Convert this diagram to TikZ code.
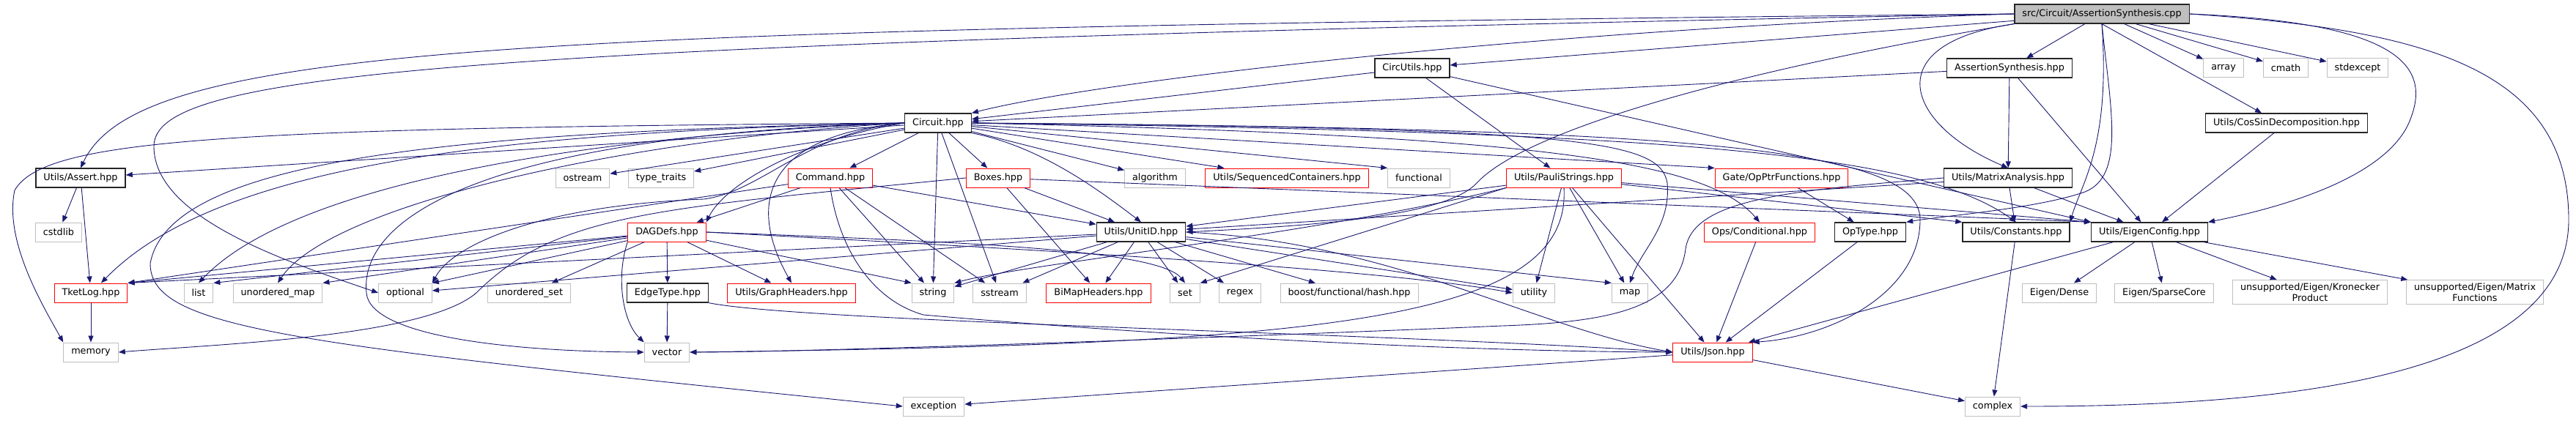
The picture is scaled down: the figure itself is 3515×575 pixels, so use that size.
\documentclass[tikz,border=0pt]{standalone}
\usepackage{fontspec}
\setmainfont{DejaVu Sans}
\usepackage{xcolor}
\usepackage{tikz}
\usetikzlibrary{arrows.meta}
\definecolor{mEdge}{HTML}{191970}
\definecolor{mGrey}{HTML}{BFBFBF}
\definecolor{mDark}{HTML}{262626}
\definecolor{mRed}{HTML}{FF0000}
\tikzset{
 hbox/.style={rectangle, fill=white, line width=1pt, minimum height=26pt, inner xsep=10.5pt, inner ysep=4pt, align=center, font=\fontsize{12.8}{15}\selectfont},
 inc/.style={-{Triangle[length=9pt,width=7pt]}, draw=mEdge, line width=0.9pt}
}
\newcommand{\hnode}[5]{%
\ifcase#5
 \node[hbox, draw=mGrey] (#3) at (#1,#2) {#4};%
\or
 \node[hbox, draw=mDark, line width=1.3pt] (#3) at (#1,#2) {#4};%
\or
 \node[hbox, draw=mRed] (#3) at (#1,#2) {#4};%
\else
 \node[hbox, draw=mDark, line width=1.3pt, fill=mGrey] (#3) at (#1,#2) {#4};%
\fi}

\begin{document}
\begin{tikzpicture}[x=1pt, y=-1pt]
\useasboundingbox (0,0) rectangle (3515,575);
\hnode{2868}{19}{R}{src/Circuit/AssertionSynthesis.cpp}{3}
\hnode{1927}{93}{circutils}{CircUtils.hpp}{1}
\hnode{2742}{93}{ash}{AssertionSynthesis.hpp}{1}
\hnode{3034}{93}{array}{array}{0}
\hnode{3119}{93}{cmath}{cmath}{0}
\hnode{3217}{93}{stdexcept}{stdexcept}{0}
\hnode{1280}{168}{circuit}{Circuit.hpp}{1}
\hnode{3120}{168}{cossin}{Utils/CosSinDecomposition.hpp}{1}
\hnode{110}{243}{assert}{Utils/Assert.hpp}{1}
\hnode{795}{243}{ostream}{ostream}{0}
\hnode{902}{243}{typetraits}{type\_traits}{0}
\hnode{1133}{243}{command}{Command.hpp}{2}
\hnode{1362}{243}{boxes}{Boxes.hpp}{2}
\hnode{1576}{243}{algorithm}{algorithm}{0}
\hnode{1756}{243}{seqcont}{Utils/SequencedContainers.hpp}{2}
\hnode{1936}{243}{functional}{functional}{0}
\hnode{2134}{243}{pauli}{Utils/PauliStrings.hpp}{2}
\hnode{2431}{243}{opptr}{Gate/OpPtrFunctions.hpp}{2}
\hnode{2740}{243}{matrix}{Utils/MatrixAnalysis.hpp}{1}
\hnode{80}{317}{cstdlib}{cstdlib}{0}
\hnode{910}{317}{dagdefs}{DAGDefs.hpp}{2}
\hnode{1557}{317}{unitid}{Utils/UnitID.hpp}{1}
\hnode{2401}{317}{opscond}{Ops/Conditional.hpp}{2}
\hnode{2552}{317}{optype}{OpType.hpp}{1}
\hnode{2751}{317}{constants}{Utils/Constants.hpp}{1}
\hnode{2933}{317}{eigenconfig}{Utils/EigenConfig.hpp}{1}
\hnode{124}{400}{tketlog}{TketLog.hpp}{2}
\hnode{271}{400}{list}{list}{0}
\hnode{379}{400}{umap}{unordered\_map}{0}
\hnode{553}{400}{optional}{optional}{0}
\hnode{722}{400}{uset}{unordered\_set}{0}
\hnode{911}{400}{edgetype}{EdgeType.hpp}{1}
\hnode{1080}{400}{graphheaders}{Utils/GraphHeaders.hpp}{2}
\hnode{1273}{400}{string}{string}{0}
\hnode{1364}{400}{sstream}{sstream}{0}
\hnode{1499}{400}{bimap}{BiMapHeaders.hpp}{2}
\hnode{1617}{400}{set}{set}{0}
\hnode{1692}{400}{regex}{regex}{0}
\hnode{1841}{400}{boosthash}{boost/functional/hash.hpp}{0}
\hnode{2093}{400}{utility}{utility}{0}
\hnode{2224}{400}{map}{map}{0}
\hnode{2810}{400}{dense}{Eigen/Dense}{0}
\hnode{2953}{400}{sparse}{Eigen/SparseCore}{0}
\hnode{3152}{399}{kron}{unsupported/Eigen/Kronecker\\Product}{0}
\hnode{3377}{399}{matfun}{unsupported/Eigen/Matrix\\Functions}{0}
\hnode{124}{481}{memory}{memory}{0}
\hnode{910}{481}{vector}{vector}{0}
\hnode{2337}{481}{json}{Utils/Json.hpp}{2}
\hnode{1274}{555}{exception}{exception}{0}
\hnode{2719}{555}{complex}{complex}{0}
% root
\foreach \t in {circutils,ash,array,cmath,stdexcept} \draw[inc] (R) -- (\t);
\draw[inc] (R.south) -- ([xshift=-34pt]cossin.north);
\draw[inc] (R.west) .. controls (2100,40) and (1500,110) .. (circuit.north east);
\draw[inc] (R.west) .. controls (700,40) and (190,60) .. (assert.north);
\draw[inc] (R.west) .. controls (600,60) and (210,100) .. (210,200) .. controls (210,300) and (400,360) .. (optional.west);
\draw[inc] (R.south west) .. controls (2350,100) and (2080,180) .. (2015,250) .. controls (1970,300) and (1750,310) .. (unitid.east);
\draw[inc] (R.south west) .. controls (2560,60) and (2600,170) .. (matrix.north);
\draw[inc] (R.south) .. controls (2880,200) and (2840,250) .. (constants.north east);
\draw[inc] (R.south) .. controls (2880,150) and (2900,240) .. (2845,262) .. controls (2780,285) and (2650,295) .. (optype.north east);
\draw[inc] (R.east) .. controls (3250,30) and (3320,80) .. (3290,160) .. controls (3260,250) and (3080,290) .. (eigenconfig.north east);
\draw[inc] (R.east) .. controls (3300,40) and (3505,90) .. (3505,300) .. controls (3505,520) and (3100,555) .. (complex.east);
% headers
\draw[inc] (circutils) -- (circuit);
\draw[inc] (circutils) -- (pauli);
\draw[inc] (circutils) -- (eigenconfig.north west);
\foreach \t in {circuit,matrix,eigenconfig} \draw[inc] (ash) -- (\t);
\draw[inc] (cossin) -- (eigenconfig);
\foreach \t in {constants,eigenconfig,unitid} \draw[inc] (matrix) -- (\t);
\draw[inc] (matrix.west) .. controls (2450,260) and (2310,270) .. (2300,340) .. controls (2290,420) and (2200,440) .. (2050,445) .. controls (1700,460) and (1100,481) .. (vector.east);
\draw[inc] (opptr) -- (optype);
\draw[inc] (opscond) -- (json);
\draw[inc] (optype) -- (json);
\draw[inc] (constants) -- (complex);
\foreach \t in {dense,sparse,kron,matfun,json} \draw[inc] (eigenconfig) -- (\t);
\draw[inc] (json) -- (exception);
\draw[inc] (json) -- (complex);
\draw[inc] (assert) -- (cstdlib);
\draw[inc] (assert) -- (tketlog);
\draw[inc] (tketlog) -- (memory);
% Circuit.hpp
\foreach \t in {assert,ostream,typetraits,command,boxes,algorithm,seqcont,string,sstream} \draw[inc] (circuit) -- (\t);
\draw[inc] (circuit) -- (functional.north west);
\draw[inc] (circuit) -- (opptr.north west);
\draw[inc] (circuit.south east) .. controls (1420,200) and (1500,260) .. (unitid.north);
\draw[inc] (circuit.west) .. controls (1100,190) and (990,250) .. (dagdefs.north east);
\draw[inc] (circuit.west) .. controls (1040,185) and (1020,280) .. (graphheaders.north);
\draw[inc] (circuit.west) .. controls (700,180) and (300,220) .. ([xshift=14pt]tketlog.north);
\draw[inc] (circuit.west) .. controls (800,185) and (400,250) .. (list.north);
\draw[inc] (circuit.west) .. controls (850,190) and (450,280) .. (umap.north);
\draw[inc] (circuit.west) .. controls (1100,180) and (1040,262) .. (960,272) .. controls (750,280) and (620,330) .. (optional.north east);
\draw[inc] (circuit.west) .. controls (300,175) and (60,190) .. (20,260) .. controls (5,330) and (60,420) .. (memory.north west);
\draw[inc] (circuit.west) .. controls (600,180) and (230,220) .. (205,360) .. controls (205,450) and (400,470) .. (exception.west);
\draw[inc] (circuit.west) .. controls (650,185) and (490,300) .. (500,400) .. controls (505,460) and (700,480) .. (vector.west);
\draw[inc] (circuit.east) .. controls (2300,175) and (2620,200) .. (2620,300) .. controls (2620,400) and (2500,460) .. (json.north east);
\draw[inc] (circuit.east) .. controls (2300,180) and (2620,210) .. (constants.north);
\draw[inc] (circuit.east) .. controls (2100,185) and (2330,220) .. (opscond.north);
\draw[inc] (circuit.east) .. controls (2150,175) and (2265,190) .. (2275,250) .. controls (2280,310) and (2240,340) .. (map.north);
% Command.hpp, Boxes.hpp
\foreach \t in {dagdefs,unitid,string,sstream} \draw[inc] (command) -- (\t);
\draw[inc] (command) -- (tketlog.north east);
\draw[inc] (command.south) .. controls (1145,340) and (1190,410) .. (1260,430) .. controls (1600,460) and (2000,480) .. (json.west);
\draw[inc] (boxes) -- (unitid);
\draw[inc] (boxes) -- (bimap);
\draw[inc] (boxes) -- (eigenconfig.north west);
\draw[inc] (boxes.west) .. controls (900,285) and (760,290) .. (650,400) .. controls (580,460) and (300,470) .. (memory.east);
% DAGDefs.hpp, EdgeType.hpp
\foreach \t in {tketlog.north east,list.north east,umap.north east,optional.north east,uset,edgetype,graphheaders,string.north west} \draw[inc] (dagdefs) -- (\t);
\draw[inc] (dagdefs.east) .. controls (1300,330) and (1580,340) .. (set.north);
\draw[inc] (dagdefs.east) .. controls (1500,345) and (1900,370) .. (utility.west);
\draw[inc] (dagdefs.south west) .. controls (840,380) and (850,440) .. (vector.north west);
\draw[inc] (edgetype) -- (vector);
\draw[inc] (edgetype.south east) .. controls (1100,440) and (1900,455) .. (json.west);
% UnitID.hpp
\foreach \t in {tketlog.north east,optional,string,sstream,bimap,set,regex,boosthash,utility,map.north west} \draw[inc] (unitid) -- (\t);
\draw[inc] (unitid.east) .. controls (1900,330) and (2100,450) .. (json.west);
% PauliStrings.hpp
\foreach \t in {unitid,utility,map,json,constants.north west,eigenconfig.north west} \draw[inc] (pauli) -- (\t);
\draw[inc] (pauli.south west) -- (set.north east);
\draw[inc] (pauli.south west) .. controls (1800,320) and (1400,360) .. (string.north east);
\draw[inc] (pauli.south) .. controls (2145,440) and (1800,470) .. (vector.east);
\end{tikzpicture}
\end{document}
